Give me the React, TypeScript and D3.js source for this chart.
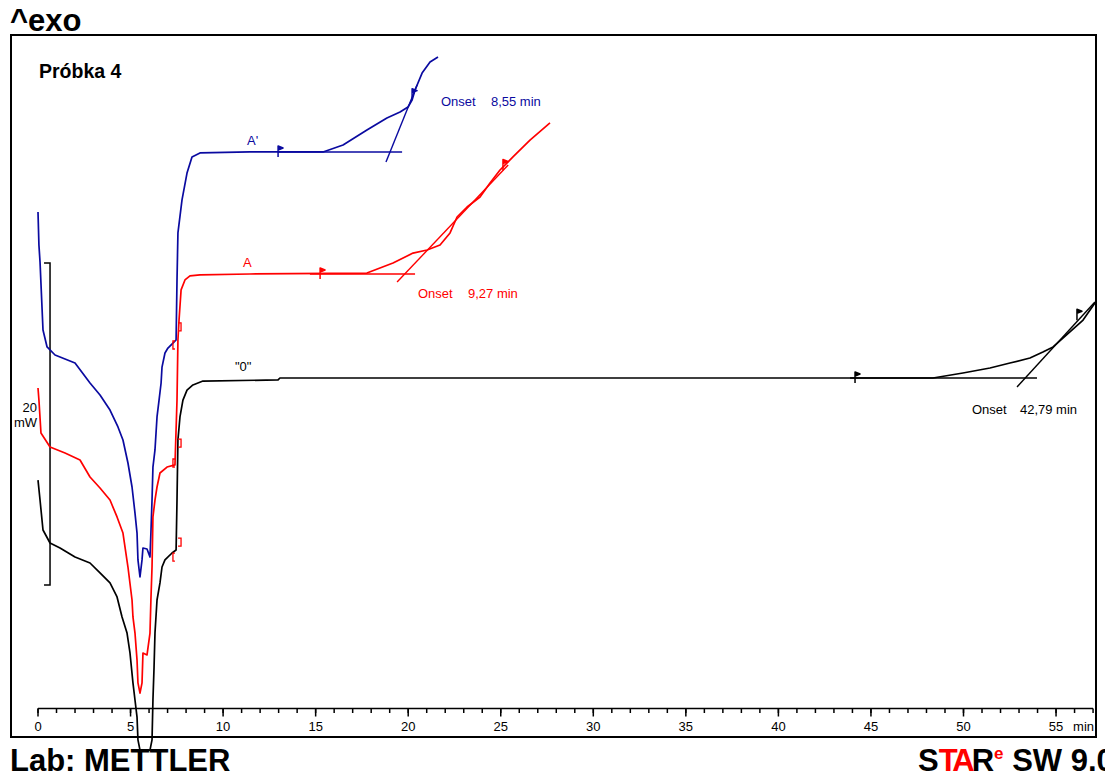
import React from 'react';
import * as d3 from 'd3';

// ---- data (time in min, heat flow in mW, curves offset as in the original plot) ----
const blueTime = [0, 0.05, 0.11, 0.27, 0.49, 0.92, 2.0, 2.81, 3.35, 3.89, 4.32, 4.59, 4.86, 5.08, 5.24, 5.35, 5.4, 5.51, 5.62, 5.67, 5.89, 6.05, 6.1, 6.16, 6.21, 6.32, 6.43, 6.54, 6.65, 6.7, 6.86, 7.02, 7.29, 7.46, 7.51, 7.56, 7.78, 8.05, 8.32, 8.75, 11.45, 15.4, 16.48, 17.77, 18.85, 19.56, 19.99, 20.21, 20.37, 20.75, 21.18, 21.61];
const blueMw = [10.31, 8.26, 7.2, 2.98, 1.93, 1.43, 0.93, -0.31, -1.06, -1.99, -3.04, -3.85, -5.28, -6.77, -8.39, -9.63, -11.3, -12.36, -11.3, -10.56, -10.62, -11.12, -9.63, -7.58, -5.53, -4.47, -2.42, -1.37, -0.31, 0.68, 1.55, 1.86, 2.17, 2.36, 6.09, 9.01, 11.06, 12.73, 13.73, 13.98, 14.04, 14.04, 14.47, 15.4, 16.15, 16.52, 16.83, 17.27, 17.89, 18.94, 19.63, 19.94];

const redTime = [0, 0.05, 0.16, 0.65, 1.46, 2.27, 2.81, 3.35, 3.89, 4.27, 4.59, 4.86, 5.08, 5.13, 5.24, 5.35, 5.4, 5.51, 5.62, 5.67, 5.89, 6.05, 6.1, 6.16, 6.21, 6.32, 6.43, 6.59, 6.97, 7.4, 7.51, 7.56, 7.62, 7.73, 7.94, 8.21, 8.75, 11.45, 17.77, 19.18, 20.26, 21.02, 21.72, 22.26, 22.64, 23.18, 23.88, 24.42, 24.96, 25.66, 26.58, 27.66];
const redMw = [-0.62, -1.37, -3.42, -4.29, -4.66, -5.09, -6.15, -6.83, -7.58, -8.63, -9.63, -11.74, -13.79, -14.84, -15.84, -17.52, -18.94, -19.57, -18.94, -17.08, -17.2, -15.84, -13.79, -11.74, -8.63, -7.58, -6.77, -5.9, -5.53, -5.4, -1.37, 2.36, 3.6, 5.47, 6.09, 6.34, 6.4, 6.46, 6.52, 7.14, 7.76, 7.95, 8.26, 9.01, 10.0, 10.62, 11.24, 12.11, 12.92, 13.73, 14.78, 15.84];

const blackTime = [0, 0.11, 0.27, 0.65, 1.19, 2.0, 2.81, 3.35, 3.89, 4.27, 4.54, 4.81, 4.97, 5.13, 5.24, 5.35, 5.4, 5.51, 6.05, 6.16, 6.21, 6.27, 6.32, 6.43, 6.59, 6.7, 6.86, 7.24, 7.46, 7.51, 7.56, 7.67, 7.83, 8.05, 8.37, 8.91, 12.97, 13.07, 48.35, 49.97, 51.43, 52.51, 53.59, 54.29, 54.84, 55.75, 56.46, 57.1];
const blackMw = [-6.34, -7.58, -9.44, -10.25, -10.56, -11.12, -11.49, -12.11, -12.73, -13.6, -14.84, -15.84, -17.08, -18.94, -20.0, -21.06, -22.48, -23.11, -23.11, -22.48, -20.0, -17.95, -15.84, -13.79, -12.73, -11.74, -11.3, -10.87, -10.68, -7.58, -3.85, -2.42, -1.37, -0.75, -0.43, -0.19, -0.12, 0, 0, 0.31, 0.62, 0.93, 1.24, 1.61, 1.93, 2.86, 3.6, 4.66];

// onset construction lines [t, mW]
const blueBaseline = [[12.97, 14.04], [19.67, 14.04]];
const blueTangent = [[18.8, 13.42], [20.48, 18.2]];
const redBaseline = [[14.69, 6.46], [20.37, 6.46]];
const redTangent = [[19.4, 5.96], [25.4, 13.23]];
const blackBaseline = [[43.87, 0], [53.97, 0]];
const blackTangent = [[52.89, -0.56], [57.1, 4.72]];

// evaluation flags [t, mW]
const blueFlags = [[12.97, 14.04], [20.21, 17.6]];
const redFlags = [[15.24, 6.46], [25.12, 13.2]];
const blackFlags = [[44.14, 0], [56.13, 3.9]];

// integration brackets [t, mW]
const bracketLeft = [[7.29, 2.05], [7.29, -5.28], [7.29, -11.12]];
const bracketRight = [[7.62, 3.17], [7.62, -4.04], [7.62, -10.19]];

const curveNames = ["A'", 'A', '"0"'];
const curveLabelPos = [[11.29, 14.47], [11.07, 6.89], [10.64, 0.43]];
const onsetValues = ['8,55 min', '9,27 min', '42,79 min'];
const onsetPos = [[21.77, 24.47, 16.89], [20.53, 23.23, 4.97], [50.46, 53.05, -2.24]];

const xTicksMajor = [0, 5, 10, 15, 20, 25, 30, 35, 40, 45, 50, 55];
const xMax = 57;
const scaleBar = [-12.86, 7.14]; // 20 mW
const scaleBarT = 0.65;

const BLUE = '#0a0aa0';
const RED = '#ff0000';
const BLACK = '#000000';
const FONT = '"Liberation Sans", Arial, sans-serif';

export default function App() {
  const x = d3.scaleLinear().domain([0, xMax]).range([38, 38 + xMax * 18.51]);
  const y = d3.scaleLinear().domain([0, 20]).range([378, 56]);
  const line = d3.line<[number, number]>().x(d => x(d[0])).y(d => y(d[1]));
  const zip = (a: number[], b: number[]) => a.map((v, i) => [v, b[i]] as [number, number]);

  const series = [
    { pts: zip(blueTime, blueMw), color: BLUE, base: blueBaseline, tan: blueTangent, flags: blueFlags },
    { pts: zip(redTime, redMw), color: RED, base: redBaseline, tan: redTangent, flags: redFlags },
    { pts: zip(blackTime, blackMw), color: BLACK, base: blackBaseline, tan: blackTangent, flags: blackFlags },
  ];

  const minorTicks = d3.range(0, xMax + 0.001, 1);
  const axisY = 708.5;

  const flagPath = (t: number, v: number) => {
    const px = x(t), py = y(v);
    return `M${px},${py + 5}V${py - 6}M${px},${py - 6}L${px + 5},${py - 4}L${px},${py - 2}Z`;
  };

  return (
    <svg width={1105} height={776} style={{ position: 'absolute', left: 0, top: 0, display: 'block', background: '#fff' }}
      fontFamily={FONT}>
      <rect x={0} y={0} width={1105} height={776} fill="#fff" />
      {/* frame */}
      <rect x={11} y={35} width={1085} height={702} fill="none" stroke={BLACK} strokeWidth={2} />
      <text x={10} y={31} fontSize={31} fontWeight="bold">^exo</text>
      <text x={39} y={78} fontSize={19.5} fontWeight="bold">Próbka 4</text>

      {/* x axis */}
      <line x1={x(0)} x2={x(xMax)} y1={axisY} y2={axisY} stroke={BLACK} strokeWidth={1.5} />
      {minorTicks.map(t => (
        <line key={'m' + t} x1={x(t)} x2={x(t)} y1={axisY} y2={axisY + 4.5} stroke={BLACK} strokeWidth={1.5} />
      ))}
      {xTicksMajor.map(t => (
        <g key={'M' + t}>
          <line x1={x(t)} x2={x(t)} y1={axisY} y2={axisY + 8} stroke={BLACK} strokeWidth={1.5} />
          <text x={x(t)} y={731} fontSize={13} textAnchor="middle">{t}</text>
        </g>
      ))}
      <text x={1094} y={731} fontSize={13} textAnchor="end">min</text>

      {/* scale bar */}
      <path d={`M${x(scaleBarT) - 6},${y(scaleBar[1])}H${x(scaleBarT)}V${y(scaleBar[0])}H${x(scaleBarT) - 6}`}
        fill="none" stroke={BLACK} strokeWidth={1.5} />
      <text x={37} y={412} fontSize={13} textAnchor="end">20</text>
      <text x={37} y={427} fontSize={13} textAnchor="end">mW</text>

      {/* curves */}
      {series.map((s, i) => (
        <g key={i} fill="none" stroke={s.color} strokeWidth={1.7} strokeLinejoin="round">
          <path d={line(s.pts) || ''} />
          <path d={line(s.base as [number, number][]) || ''} strokeWidth={1.4} />
          <path d={line(s.tan as [number, number][]) || ''} strokeWidth={1.4} />
          {s.flags.map((f, j) => (
            <path key={j} d={flagPath(f[0], f[1])} fill={s.color} strokeWidth={1.5} />
          ))}
        </g>
      ))}

      {/* integration brackets */}
      {bracketLeft.map((b, i) => (
        <path key={'bl' + i} d={`M${x(b[0]) + 2},${y(b[1]) - 4}H${x(b[0])}V${y(b[1]) + 4}H${x(b[0]) + 2}`}
          fill="none" stroke={RED} strokeWidth={1.3} />
      ))}
      {bracketRight.map((b, i) => (
        <path key={'br' + i} d={`M${x(b[0]) - 1},${y(b[1]) - 4}H${x(b[0]) + 2}V${y(b[1]) + 4}H${x(b[0]) - 1}`}
          fill="none" stroke={RED} strokeWidth={1.3} />
      ))}

      {/* curve labels */}
      {curveNames.map((n, i) => (
        <text key={n} x={x(curveLabelPos[i][0])} y={y(curveLabelPos[i][1])} fontSize={13}
          fill={series[i].color}>{n}</text>
      ))}
      {onsetValues.map((v, i) => (
        <g key={v} fill={series[i].color} fontSize={13}>
          <text x={x(onsetPos[i][0])} y={y(onsetPos[i][2])}>Onset</text>
          <text x={x(onsetPos[i][1])} y={y(onsetPos[i][2])}>{v}</text>
        </g>
      ))}

      {/* footer */}
      <text x={10} y={771} fontSize={31} fontWeight="bold">Lab: METTLER</text>
      <text x={918} y={771} fontSize={31} fontWeight="bold">
        <tspan fill={BLACK}>S</tspan>
        <tspan fill={RED} letterSpacing={-3}>TA</tspan>
        <tspan fill={BLACK}>R</tspan>
        <tspan fill={RED} fontSize={17} dy={-12}>e</tspan>
        <tspan fill={BLACK} dy={12}> SW 9.01</tspan>
      </text>
    </svg>
  );
}
